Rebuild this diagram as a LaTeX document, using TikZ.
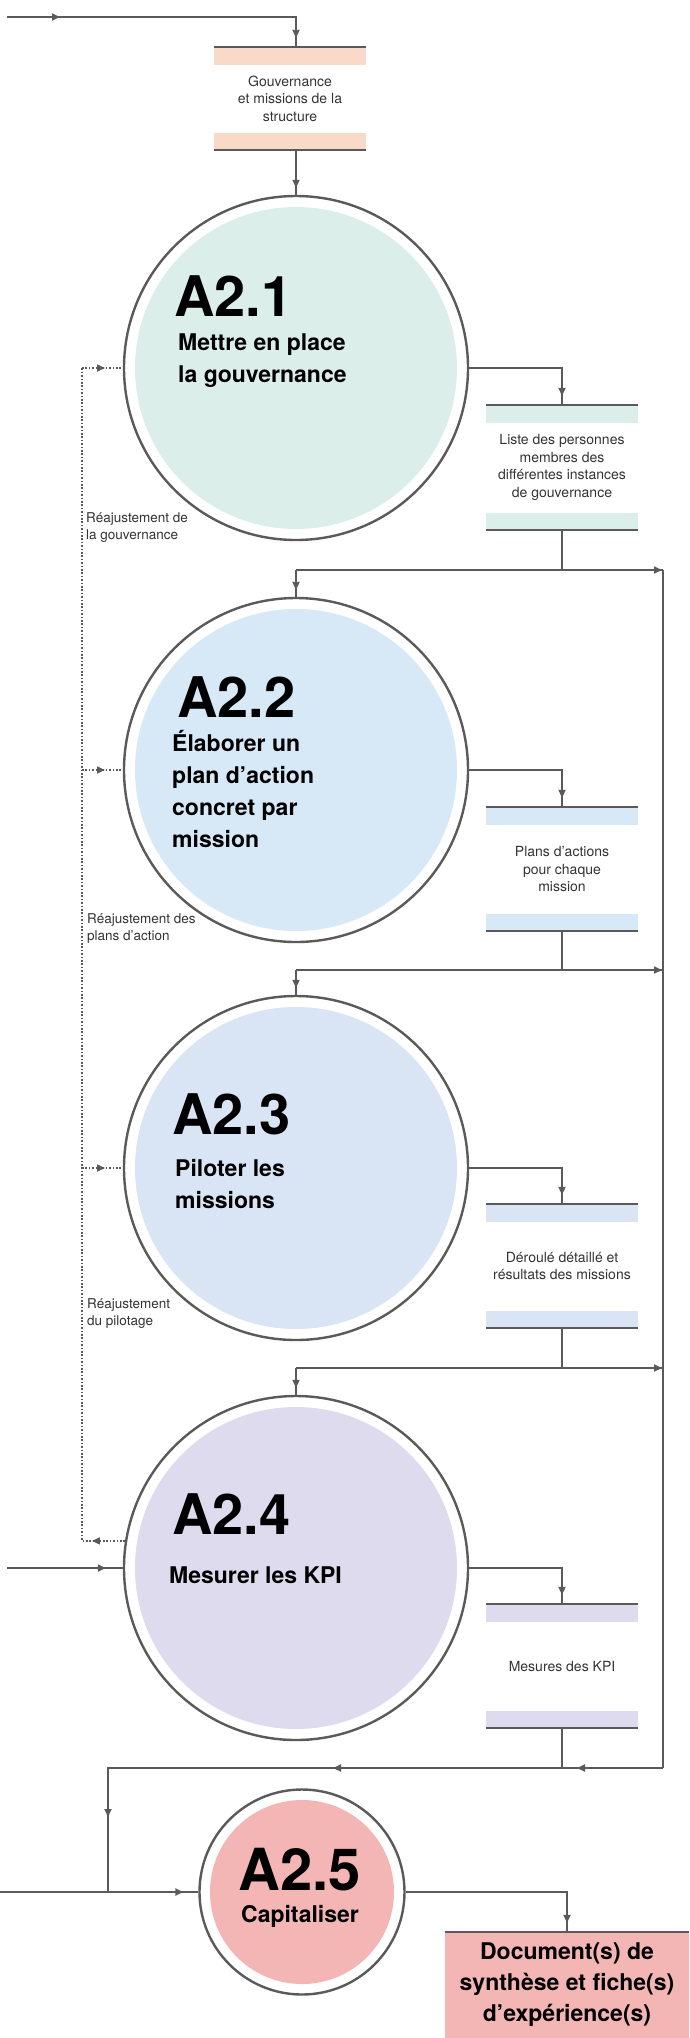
\documentclass[tikz,border=0pt]{standalone}
\usepackage{fontspec}
\setmainfont{TeX Gyre Heros}
\usetikzlibrary{arrows.meta,decorations.markings}
\definecolor{linec}{HTML}{5A5A5A}
\definecolor{txtc}{HTML}{333333}
\definecolor{peach}{HTML}{F9D9C8}
\definecolor{greenA}{HTML}{DCEEEA}
\definecolor{blueA}{HTML}{D7E9F7}
\definecolor{blueB}{HTML}{D9E4F4}
\definecolor{lilac}{HTML}{DFDBEE}
\definecolor{pinkA}{HTML}{F4B5B5}
\begin{document}
\begin{tikzpicture}[x=1pt, y=-1pt,
  flow/.style={draw=linec, line width=2pt},
  retour/.style={draw=linec, line width=1.6pt, dash pattern=on 1.6pt off 1.8pt},
  arrowat/.style={postaction={decorate, decoration={markings,
      mark=at position #1 with {\arrow{Triangle[length=8pt,width=7pt]}}}}},
  proc/.style={circle, draw=linec, line width=2.4pt, fill=white, inner sep=0pt, minimum size=344pt},
  title/.style={anchor=base west, inner sep=0pt, font=\fontsize{56}{56}\selectfont\bfseries},
  what/.style={anchor=base west, inner sep=0pt, align=left, font=\fontsize{23}{32}\selectfont\bfseries},
  store/.style={inner sep=0pt, minimum width=152pt, minimum height=#1, align=center, text=txtc,
      font=\fontsize{14}{17.5}\selectfont},
  bar/.style={draw=linec, line width=2.4pt},
  note/.style={anchor=base west, inner sep=0pt, align=left, text=txtc, font=\fontsize{13.5}{17}\selectfont},
  doc/.style={fill=pinkA, inner sep=0pt, minimum width=244pt, minimum height=106pt, align=center,
      font=\fontsize{23}{31}\selectfont\bfseries}]
  \useasboundingbox (0,0) rectangle (689,2038);

  % processes
  \node[proc] (a21) at (296,368) {};
  \node[proc] (a22) at (296,770) {};
  \node[proc] (a23) at (296,1168) {};
  \node[proc] (a24) at (296,1568) {};
  \node[proc, minimum size=205pt] (a25) at (302,1892) {};
  \fill[greenA] (a21) circle (161pt);
  \fill[blueA] (a22) circle (161pt);
  \fill[blueB] (a23) circle (161pt);
  \fill[lilac] (a24) circle (161pt);
  \fill[pinkA] (a25) circle (92pt);

  % baseline of multi-line texts = last line
  \node[title] (t21) at (174,316) {A2.1};
  \node[what] (w21) at (178,382) {Mettre en place\\la gouvernance};
  \node[title] (t22) at (177,717) {A2.2};
  \node[what] (w22) at (172,847) {Élaborer un\\plan d’action\\concret par\\mission};
  \node[title] (t23) at (172,1134) {A2.3};
  \node[what] (w23) at (175,1208) {Piloter les\\missions};
  \node[title] (t24) at (172,1534) {A2.4};
  \node[what] (w24) at (169,1583) {Mesurer les KPI};
  \node[title, font=\fontsize{58}{58}\selectfont\bfseries] (t25) at (238,1890) {A2.5};
  \node[what, anchor=base] (w25) at (300,1922) {Capitaliser};

  % data stores
  \node[store=103pt] (s0) at (290,98.5) {Gouvernance\\et missions de la\\structure};
  \node[store=125pt] (s1) at (562,467.5) {Liste des personnes\\membres des\\différentes instances\\de gouvernance};
  \node[store=124pt] (s2) at (562,869) {Plans d’actions\\pour chaque\\mission};
  \node[store=124pt] (s3) at (562,1266) {Déroulé détaillé et\\résultats des missions};
  \node[store=124pt] (s4) at (562,1666) {Mesures des KPI};
  \foreach \s/\c in {s0/peach, s1/greenA, s2/blueA, s3/blueB, s4/lilac} {
    \fill[\c] (\s.north west) rectangle ([yshift=-18pt]\s.north east);
    \fill[\c] ([yshift=17pt]\s.south west) rectangle (\s.south east);
    \draw[bar] (\s.north west) -- (\s.north east);
    \draw[bar] (\s.south west) -- (\s.south east);
  }
  \node[doc] (doc) at (567,1985) {Document(s) de\\synthèse et fiche(s)\\d’expérience(s)};
  \draw[bar] (doc.north west) -- (doc.north east);

  % inputs and bus
  \coordinate (in0) at (7,17);
  \coordinate (in4) at (7,1568);
  \coordinate (in5) at (0,1892);
  \coordinate (b1) at (663,570);
  \coordinate (b2) at (663,970);
  \coordinate (b3) at (663,1368);
  \coordinate (b4) at (663,1768);
  \coordinate (c5) at (108,1768);

  \draw[flow, arrowat=53pt, arrowat=-9pt] (in0) -| (a21.north |- s0.north);
  \draw[flow, arrowat=-7pt] (a21.north |- s0.south) -- (a21.north);
  \draw[flow, arrowat=-9pt] (a21.east) -| (s1.north);
  \draw[flow, arrowat=-9pt] (a22.east) -| (s2.north);
  \draw[flow, arrowat=-9pt] (a23.east) -| (s3.north);
  \draw[flow, arrowat=-9pt] (a24.east) -| (s4.north);
  \draw[flow, arrowat=-9pt] (a25.east) -| (doc.north);
  \draw[flow] (s1.south) -- (s1.south |- b1);
  \draw[flow] (s2.south) -- (s2.south |- b2);
  \draw[flow] (s3.south) -- (s3.south |- b3);
  \draw[flow] (s4.south) -- (s4.south |- b4);
  \draw[flow, arrowat=-1pt] (a22.north |- b1) -- (b1);
  \draw[flow, arrowat=-7pt] (a22.north |- b1) -- (a22.north);
  \draw[flow, arrowat=-1pt] (a23.north |- b2) -- (b2);
  \draw[flow, arrowat=-7pt] (a23.north |- b2) -- (a23.north);
  \draw[flow, arrowat=-1pt] (a24.north |- b3) -- (b3);
  \draw[flow, arrowat=-7pt] (a24.north |- b3) -- (a24.north);
  \draw[flow] (b1) -- (b4);
  \draw[flow, arrowat=86pt, arrowat=330pt, arrowat=604pt] (b4) -- (c5) -- (c5 |- a25.west);
  \draw[flow, arrowat=-17pt] (in4) -- (a24.west);
  \draw[flow, arrowat=-15pt] (in5) -- (a25.west);

  % feedback
  \coordinate (r0) at (82,368);
  \draw[retour, arrowat=33pt] (a24.171) -| (r0);
  \draw[retour, arrowat=23pt] (r0) -- (a21.west);
  \draw[retour, arrowat=23pt] (r0 |- a22.west) -- (a22.west);
  \draw[retour, arrowat=23pt] (r0 |- a23.west) -- (a23.west);
  \node[note] (n1) at (86,539) {Réajustement de\\la gouvernance};
  \node[note] (n2) at (87,940) {Réajustement des\\plans d’action};
  \node[note] (n3) at (87,1325) {Réajustement\\du pilotage};
\end{tikzpicture}
\end{document}
